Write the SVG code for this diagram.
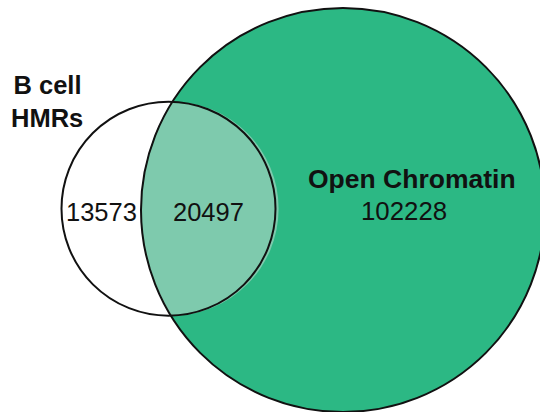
<svg xmlns="http://www.w3.org/2000/svg" width="540" height="412" viewBox="0 0 540 412">
<style>
.c{stroke:#111;stroke-width:2}
.t{font-family:"Liberation Sans",Arial,sans-serif;font-size:25.5px;fill:#111}
.b{font-weight:bold}
</style>
<rect width="540" height="412" fill="#fff"/>
<g id="open-chromatin">
<circle cx="343" cy="210" r="202" fill="#2CB884"/>
</g>
<g id="b-cell-hmrs">
<circle cx="168.5" cy="208.7" r="107" fill="#fff"/>
</g>
<g id="overlap">
<path d="M171.6 101.7 A107 107 0 0 1 171.6 315.7 A202 202 0 0 1 171.6 101.7 Z" fill="#7ECAAD"/>
</g>
<g id="outlines">
<circle cx="343" cy="210" r="202" fill="none" class="c"/>
<circle cx="168.5" cy="208.7" r="107" fill="none" class="c"/>
</g>
<g id="labels">
<text class="t b" x="13.5" y="94">B cell</text>
<text class="t b" x="11" y="126.5">HMRs</text>
<text class="t" x="66" y="221">13573</text>
<text class="t" x="173" y="221">20497</text>
<text class="t b" x="308" y="187.5" style="font-size:26.5px">Open Chromatin</text>
<text class="t" x="361" y="220" style="font-size:25.8px">102228</text>
</g>
</svg>
